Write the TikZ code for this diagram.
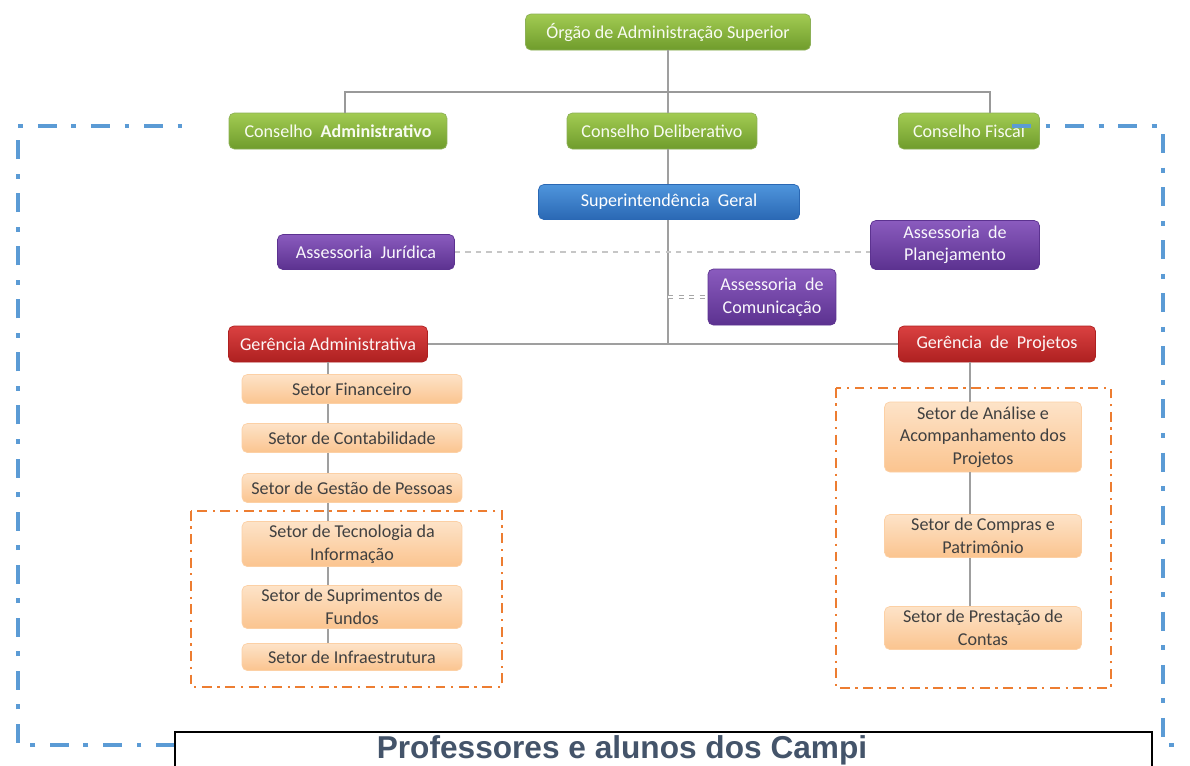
\documentclass[tikz,border=0pt]{standalone}
\usepackage{fontspec}
\setmainfont{Carlito}
\newfontfamily\campifont{Liberation Sans}
\usetikzlibrary{calc}

\definecolor{verdeA}{HTML}{A2CB52}
\definecolor{verdeB}{HTML}{6F9C2C}
\definecolor{azulA}{HTML}{4F95DC}
\definecolor{azulB}{HTML}{2A68B4}
\definecolor{roxoA}{HTML}{8A5BBE}
\definecolor{roxoB}{HTML}{5C3290}
\definecolor{vermA}{HTML}{DA4141}
\definecolor{vermB}{HTML}{AE2020}
\definecolor{setorA}{HTML}{FDE3C8}
\definecolor{setorB}{HTML}{FBC48F}
\definecolor{moldura}{HTML}{5B9BD5}
\definecolor{laranja}{HTML}{ED7D31}
\definecolor{campitxt}{HTML}{44546A}

\tikzset{
  caixa/.style={rounded corners=3pt, align=center, inner sep=2pt,
    font=\fontsize{10.3}{12.8}\selectfont},
  tam/.style 2 args={minimum width=#1, minimum height=#2},
  verde/.style={caixa, top color=verdeA, bottom color=verdeB, draw=verdeB!80, text=white!92!verdeA},
  azul/.style={caixa, top color=azulA, bottom color=azulB, draw=azulB, text=white},
  roxo/.style={caixa, top color=roxoA, bottom color=roxoB, draw=roxoB, text=white!95!roxoA},
  verm/.style={caixa, top color=vermA, bottom color=vermB, draw=vermB, text=white!95!vermA},
  setor/.style={caixa, top color=setorA, bottom color=setorB, draw=setorB!80!white, text=black!75},
  ligacao/.style={draw=gray!75, line width=0.6pt},
  blocoext/.style={draw=moldura, line width=2.2pt,
    dash pattern=on 10.8pt off 8.3pt on 2.8pt off 8.3pt},
  blocoint/.style={draw=laranja, line width=1.2pt,
    dash pattern=on 5.6pt off 3.2pt on 1.3pt off 3.2pt}
}

\begin{document}
\begin{tikzpicture}[x=0.02cm, y=-0.02cm]
  \useasboundingbox (0,0) rectangle (1190,765);

  % Outer dash-dot frame (blue), left part
  \draw[blocoext] (175,745) -- (18,745) -- (18,126) -- (192,126);

  % Inner dash-dot frames (orange)
  \draw[blocoint] (191,511) rectangle (502,687);
  \draw[blocoint] (836,388) rectangle (1111,688);

  % Top level
  \node[verde, tam={5.7cm}{0.72cm}] (org) at (668,32) {Órgão de Administração Superior};
  \node[verde, tam={4.36cm}{0.72cm}] (cadm) at (338,131) {Conselho\ \ \textbf{Administrativo}};
  \node[verde, tam={3.8cm}{0.72cm}] (cdel) at (662,131) {Conselho Deliberativo};
  \node[verde, tam={2.82cm}{0.72cm}] (cfis) at (969,131) {Conselho Fiscal};

  % Superintendence and advisory
  \node[azul, tam={5.22cm}{0.7cm}] (sup) at (669,202) {Superintendência\ \ Geral};
  \node[roxo, tam={3.54cm}{0.7cm}] (jur) at (366,252) {Assessoria\ \ Jurídica};
  \node[roxo, tam={3.38cm}{0.98cm}] (plan) at (955,245) {Assessoria\ \ de\\Planejamento};
  \node[roxo, tam={2.56cm}{1.12cm}] (com) at (772,297) {Assessoria\ \ de\\Comunicação};

  % Managements
  \node[verm, tam={3.98cm}{0.72cm}] (gadm) at (328,344) {Gerência\ Administrativa};
  \node[verm, tam={3.94cm}{0.72cm}] (gproj) at (997,344) {Gerência\ \ de\ \ Projetos};

  % Sectors (left)
  \node[setor, tam={4.4cm}{0.58cm}] (fin) at (352,389) {Setor Financeiro};
  \node[setor, tam={4.4cm}{0.58cm}] (cont) at (352,438) {Setor de Contabilidade};
  \node[setor, tam={4.4cm}{0.58cm}] (gest) at (352,488) {Setor de Gestão de Pessoas};
  \node[setor, tam={4.4cm}{0.88cm}] (tec) at (352,544) {Setor de Tecnologia da\\Informação};
  \node[setor, tam={4.4cm}{0.86cm}] (supr) at (352,607) {Setor de Suprimentos de\\Fundos};
  \node[setor, tam={4.4cm}{0.54cm}] (infra) at (352,657) {Setor de Infraestrutura};

  % Sectors (right)
  \node[setor, tam={3.94cm}{1.4cm}] (anal) at (983,437) {Setor de Análise e\\Acompanhamento dos\\Projetos};
  \node[setor, tam={3.94cm}{0.86cm}] (comp) at (983,536) {Setor de Compras e\\Patrimônio};
  \node[setor, tam={3.94cm}{0.86cm}] (prest) at (983,628) {Setor de Prestação de\\Contas};

  % Outer dash-dot frame (blue), right part, over the fiscal box
  \draw[blocoext] (1012,126) -- (1163,126) -- (1163,745) -- (1186,745);

  % Connectors of the top level
  \draw[ligacao] (org.south) -- (org.south |- cdel.north);
  \draw[gray!80, line width=1.3pt] (cadm.north -| 345,0) |- ($(cfis.north)+(21,-21)$) -- ($(cfis.north)+(21,0)$);
  \draw[ligacao] (cdel.south -| org.south) -- (sup.north -| org.south);
  \coordinate (eixo) at (sup.south -| org.south);
  \draw[ligacao] (eixo) -- (eixo |- gproj.west);
  \draw[ligacao] (gadm.east) -- (gproj.west);

  % Advisory connectors (dashed)
  \draw[gray!45, line width=0.8pt, dashed] (jur.east) -- (plan.west |- jur.east);
  \draw[gray!70, line width=0.4pt, double, double distance=1.6pt, dashed] (eixo |- com.west) -- (com.west);

  % Left column connectors
  \foreach \a/\b in {gadm/fin, fin/cont, cont/gest, gest/tec, tec/supr, supr/infra}
    \draw[ligacao] (\a.south -| gadm.south) -- (\b.north -| gadm.south);

  % Right column connectors
  \coordinate (eixod) at ($(gproj.south)+(-27,0)$);
  \foreach \a/\b in {gproj/anal, anal/comp, comp/prest}
    \draw[ligacao] (\a.south -| eixod) -- (\b.north -| eixod);

  % Campi box
  \draw[black, line width=1.2pt, fill=white] (175,732) rectangle (1152,775);
  \node[text=campitxt, font=\campifont\bfseries\fontsize{18}{20}\selectfont, anchor=base, inner sep=0pt]
    (campi) at (622,758) {Professores e alunos dos Campi};
\end{tikzpicture}
\end{document}
